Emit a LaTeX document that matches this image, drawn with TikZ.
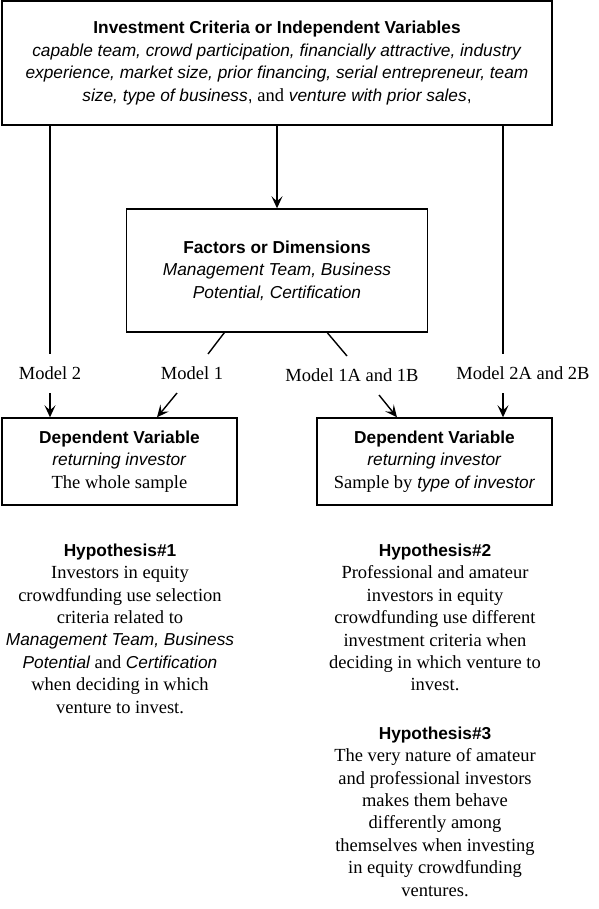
\documentclass[tikz,border=0pt]{standalone}
\usepackage{fontspec}
\setmainfont{Liberation Serif}
\newfontfamily\arialf{Liberation Sans}
\usetikzlibrary{arrows.meta}
\newcommand{\sfb}{\arialf\bfseries}
\newcommand{\sfi}[1]{{\arialf\itshape\fontsize{17.3}{22.4}\selectfont #1}}
\newcommand{\tms}[1]{{\rmfamily\fontsize{18.5}{22.5}\selectfont #1}}
\begin{document}
\begin{tikzpicture}[x=1pt,y=-1pt,
  box/.style={draw,line width=1.4pt,inner sep=0pt,align=center,
     font=\arialf\fontsize{17.3}{22.5}\selectfont},
  lbl/.style={inner sep=0pt,minimum height=39pt,font=\rmfamily\fontsize{18.5}{22.5}\selectfont},
  hyp/.style={inner sep=0pt,align=center,font=\rmfamily\fontsize{18.5}{22.4}\selectfont},
  con/.style={line width=1.4pt},
  arr/.style={line width=1.4pt,-{Stealth[length=12pt,width=11pt,inset=5pt]}}]
\useasboundingbox (0,0) rectangle (598,909);
\fill[white] (0,0) rectangle (598,909);

\node[box,minimum width=550pt,minimum height=124pt] (top) at (277,63)
 {\textbf{Investment Criteria or Independent Variables}\\
  \textit{capable team, crowd participation, financially attractive, industry}\\
  \textit{experience, market size, prior financing, serial entrepreneur, team}\\
  \textit{size, type of business}, \tms{and} \textit{venture with prior sales},};

\node[box,minimum width=301pt,minimum height=123pt] (fac) at (277,270.5)
 {\textbf{Factors or Dimensions}\\
  \textit{Management Team, Business}\\
  \textit{Potential, Certification}};

\node[box,minimum width=235pt,minimum height=87pt] (dv1) at (119.5,461.5)
 {\textbf{Dependent Variable}\\
  \textit{returning investor}\\
  \tms{The whole sample}};

\node[box,minimum width=235pt,minimum height=87pt] (dv2) at (434.5,461.5)
 {\textbf{Dependent Variable}\\
  \textit{returning investor}\\
  \tms{Sample by} \textit{type of investor}};

\node[lbl] (m2) at (50,373.5) {Model 2};
\node[lbl] (m1) at (192,373.5) {Model 1};
\node[lbl] (m1a) at (352,375.5) {Model 1A and 1B};
\node[lbl] (m2a) at (523,373.5) {Model 2A and 2B};

\coordinate (d1e) at (208,354);
\coordinate (d2e) at (347,356);
\coordinate (a1s) at (177,393);
\coordinate (a2s) at (379,395);
\coordinate (rv) at (503,354);
\coordinate (a3s) at (503,393);

% connectors
\draw[arr] (fac.north |- top.south) -- (fac.north);
\draw[con] (top.south -| m2) -- (m2.north);
\draw[con] (top.south -| rv) -- (rv);
\draw[con] ([xshift=98.5pt]fac.south west) -- (d1e);
\draw[con] ([xshift=201.5pt]fac.south west) -- (d2e);
\draw[arr] (m2.south) -- (m2.south |- dv1.north);
\draw[arr] (a1s) -- ([xshift=37.5pt]dv1.north);
\draw[arr] (a2s) -- ([xshift=-37.5pt]dv2.north);
\draw[arr] (a3s) -- (a3s |- dv2.north);

\node[hyp] (h1) at (120,628.5)
 {{\sfb\fontsize{17.3}{22.4}\selectfont Hypothesis\#1}\\
  Investors in equity\\
  crowdfunding use selection\\
  criteria related to\\
  \sfi{Management Team, Business}\\
  \sfi{Potential} and \sfi{Certification}\\
  when deciding in which\\
  venture to invest.};

\node[hyp] (h2) at (435,617.5)
 {{\sfb\fontsize{17.3}{22.4}\selectfont Hypothesis\#2}\\
  Professional and amateur\\
  investors in equity\\
  crowdfunding use different\\
  investment criteria when\\
  deciding in which venture to\\
  invest.};

\node[hyp] (h3) at (435,811.5)
 {{\sfb\fontsize{17.3}{22.4}\selectfont Hypothesis\#3}\\
  The very nature of amateur\\
  and professional investors\\
  makes them behave\\
  differently among\\
  themselves when investing\\
  in equity crowdfunding\\
  ventures.};
\end{tikzpicture}
\end{document}
